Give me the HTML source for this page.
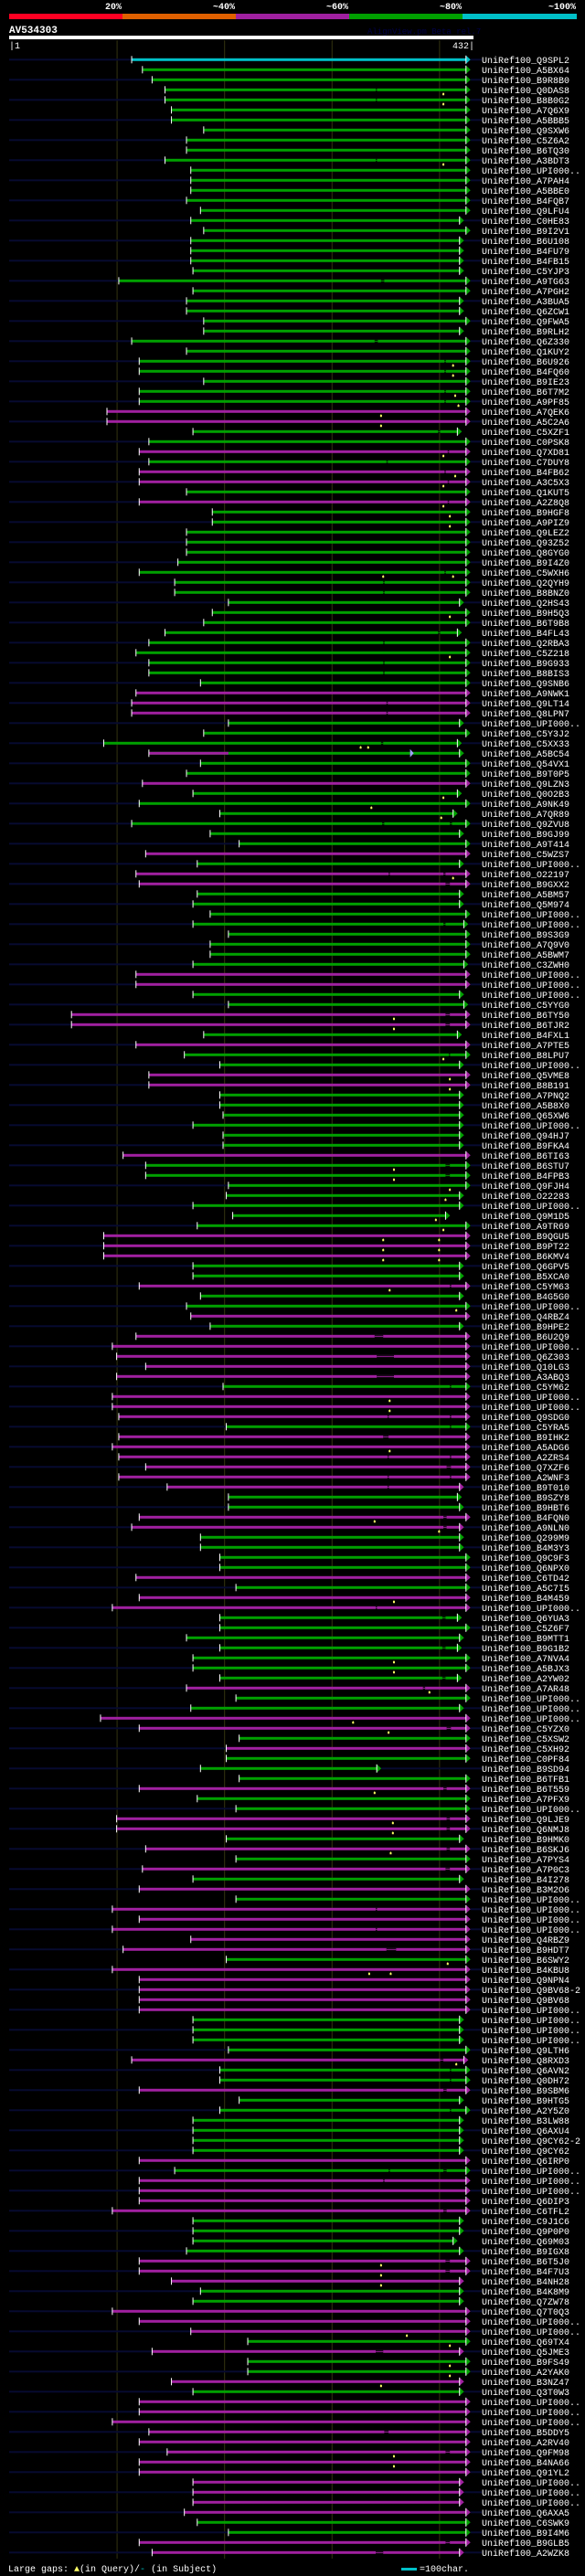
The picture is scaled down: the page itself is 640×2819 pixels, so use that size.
<!DOCTYPE html>
<html>
<head>
<meta charset="utf-8">
<style>
html,body{margin:0;padding:0;background:#000;}
body{width:640px;height:2819px;overflow:hidden;}
svg{display:block;}
text{font-family:"Liberation Mono","DejaVu Sans Mono",monospace;}
</style>
</head>
<body>
<svg id="chart" width="640" height="2819" viewBox="0 0 640 2819" xmlns="http://www.w3.org/2000/svg">
  <g>
    <rect x="10" y="15" width="124" height="6" fill="#ff0022"/>
    <rect x="134" y="15" width="124" height="6" fill="#e06000"/>
    <rect x="258" y="15" width="124" height="6" fill="#a020a0"/>
    <rect x="382" y="15" width="124" height="6" fill="#00a000"/>
    <rect x="506" y="15" width="125" height="6" fill="#00c0c8"/>
    <g font-size="10" font-weight="bold" fill="#fff" text-anchor="end">
      <text x="133" y="10">20%</text>
      <text x="257" y="10">~40%</text>
      <text x="381" y="10">~60%</text>
      <text x="505" y="10">~80%</text>
      <text x="630" y="10">~100%</text>
    </g>
  </g>
  <text x="10" y="36" font-size="11" font-weight="bold" fill="#fff">AV534303</text>
  <text x="402" y="37" font-size="9" fill="#000048">AlignView.pm Beta rel.7</text>
  <rect x="10" y="39" width="508" height="4" fill="#fff"/>
  <text x="10" y="53" font-size="10" fill="#fff">|1</text>
  <text x="519" y="53" font-size="10" fill="#fff" text-anchor="end">432|</text>
  <g id="grid"></g>
  <g id="rows"></g>
  <g>
    <text x="9" y="2814" font-size="10" fill="#fff">Large gaps:<tspan fill="#ffff66"> ▲</tspan>(in Query)/<tspan fill="#00c8c8">-</tspan> (in Subject)</text>
    <rect x="439" y="2810" width="17" height="3" fill="#00c0c8"/>
    <text x="459" y="2814" font-size="10" fill="#fff">=100char.</text>
  </g>
</svg>
<script>
const queryLength = 432;
const gridTicks = [100, 200, 300, 400];
const names = ["Q9SPL2","A5BX64","B9R8B0","Q0DAS8","B8B0G2","A7Q6X9","A5BBB5","Q9SXW6","C5Z6A2","B6TQ30",
"A3BDT3","UPI000..","A7PAH4","A5BBE0","B4FQB7","Q9LFU4","C0HE83","B9I2V1","B6U108","B4FU79",
"B4FB15","C5YJP3","A9TG63","A7PGH2","A3BUA5","Q6ZCW1","Q9FWA5","B9RLH2","Q6Z330","Q1KUY2",
"B6U926","B4FQ60","B9IE23","B6T7M2","A9PF85","A7QEK6","A5C2A6","C5XZF1","C0PSK8","Q7XD81",
"C7DUY8","B4FB62","A3C5X3","Q1KUT5","A2Z8Q8","B9HGF8","A9PIZ9","Q9LEZ2","Q93Z52","Q8GYG0",
"B9I4Z0","C5WXH6","Q2QYH9","B8BNZ0","Q2HS43","B9H5Q3","B6T9B8","B4FL43","Q2RBA3","C5Z218",
"B9G933","B8BIS3","Q9SNB6","A9NWK1","Q9LT14","Q8LPN7","UPI000..","C5Y3J2","C5XX33","A5BC54",
"Q54VX1","B9T0P5","Q9LZN3","Q0O2B3","A9NK49","A7QR89","Q9ZVU8","B9GJ99","A9T414","C5WZS7",
"UPI000..","O22197","B9GXX2","A5BM57","Q5M974","UPI000..","UPI000..","B9S3G9","A7Q9V0","A5BWM7",
"C3ZWH0","UPI000..","UPI000..","UPI000..","C5YYG0","B6TY50","B6TJR2","B4FXL1","A7PTE5","B8LPU7",
"UPI000..","Q5VME8","B8B191","A7PNQ2","A5B8X0","Q65XW6","UPI000..","Q94HJ7","B9FKA4","B6TI63",
"B6STU7","B4FPB3","Q9FJH4","O22283","UPI000..","Q9M1D5","A9TR69","B9QGU5","B9PT22","B6KMV4",
"Q6GPV5","B5XCA0","C5YM63","B4G5G0","UPI000..","Q4RBZ4","B9HPE2","B6U2Q9","UPI000..","Q6Z303",
"Q10LG3","A3ABQ3","C5YM62","UPI000..","UPI000..","Q9SDG0","C5YRA5","B9IHK2","A5ADG6","A2ZRS4",
"Q7XZF6","A2WNF3","B9T010","B9SZY8","B9HBT6","B4FQN0","A9NLN0","Q299M9","B4M3Y3","Q9C9F3",
"Q6NPX0","C6TD42","A5C7I5","B4M459","UPI000..","Q6YUA3","C5Z6F7","B9MTT1","B9G1B2","A7NVA4",
"A5BJX3","A2YW02","A7AR48","UPI000..","UPI000..","UPI000..","C5YZX0","C5XSW2","C5XH92","C0PF84",
"B9SD94","B6TFB1","B6T559","A7PFX9","UPI000..","Q9LJE9","Q6NMJ8","B9HMK0","B6SKJ6","A7PYS4",
"A7P0C3","B4I278","B3M2O6","UPI000..","UPI000..","UPI000..","UPI000..","Q4RBZ9","B9HDT7","B6SWY2",
"B4KBU8","Q9NPN4","Q9BV68-2","Q9BV68","UPI000..","UPI000..","UPI000..","UPI000..","Q9LTH6","Q8RXD3",
"Q6AVN2","Q0DH72","B9SBM6","B9HTG5","A2Y5Z0","B3LW88","Q6AXU4","Q9CY62-2","Q9CY62","Q6IRP0",
"UPI000..","UPI000..","UPI000..","Q6DIP3","C6TFL2","C9J1C6","Q9P0P0","Q69M03","B9IGX8","B6T5J0",
"B4F7U3","B4NH28","B4K8M9","Q7ZW78","Q7T0Q3","UPI000..","UPI000..","Q69TX4","Q5JME3","B9FS49",
"A2YAK0","B3NZ47","Q3T0W3","UPI000..","UPI000..","UPI000..","B5DDY5","A2RV40","Q9FM98","B4NA66",
"Q91YL2","UPI000..","UPI000..","UPI000..","Q6AXA5","C6SWK9","B9I4M6","B9GLB5","A2WZK8"];
const kinds = "cggggggggg"+"gggggggggg"+"gggggggggg"+"gggggppggp"+"gppgpggggg"+"gggggggggg"+"gggpppgggg"+"ggpggggggp"+"gppggggggg"+"gppggppgpg"+"gppggggggp"+"gggggggppp"+"ggpggpgppp"+"ppgpppgppp"+"pppggppggg"+"gpgppggggg"+"ggpggppgpg"+"ggpggppgpg"+"pgpgpppppg"+"pppppggggp"+"ggpggggggp"+"gppppggggp"+"ppggpppgpg"+"gpgppppppp"+"pppppggpp";
const starts = [114,124,133,145,145,151,151,181,165,165,
145,169,169,169,165,178,169,181,169,169,
169,171,102,171,165,165,181,181,114,165,
121,121,181,121,121,91,91,171,130,121,
130,121,121,165,121,189,189,165,165,165,
157,121,154,154,204,189,181,145,130,118,
130,130,178,118,114,114,204,181,88,130,
178,165,124,171,121,196,114,187,214,127,
175,118,121,175,171,187,171,204,187,187,
171,118,118,171,204,58,58,181,118,163,
196,130,130,196,196,199,171,199,199,106,
127,127,204,202,171,208,175,88,88,88,
171,171,121,178,165,169,187,118,96,100,
127,100,199,96,96,102,202,102,96,102,
127,102,147,204,204,121,114,178,178,196,
196,118,211,121,96,196,196,165,196,171,
171,196,165,211,169,85,121,214,202,202,
178,214,121,175,211,100,100,202,127,211,
124,171,121,211,96,121,96,169,106,202,
96,121,121,121,121,171,171,171,204,114,
196,196,121,214,196,171,171,171,171,121,
154,121,121,121,96,171,171,171,165,121,
121,151,178,171,96,121,169,222,133,222,
222,151,171,121,121,96,130,121,147,121,
121,171,171,171,163,175,204,121,133];
const ends = [425,425,425,425,425,425,425,425,425,425,
425,425,425,425,425,425,419,425,419,419,
419,419,425,425,419,419,425,419,425,425,
425,425,425,425,425,425,425,417,425,425,
425,425,425,425,425,425,425,425,425,425,
425,425,425,425,419,425,425,417,425,425,
425,425,425,425,425,425,419,425,417,419,
425,425,425,417,425,413,425,419,425,425,
419,425,425,419,419,425,423,425,425,425,
423,425,425,419,423,425,425,417,425,425,
419,425,425,419,419,419,419,419,419,425,
425,425,425,419,419,406,425,425,425,425,
419,419,425,419,425,425,419,425,425,425,
425,425,425,425,425,425,425,425,425,425,
425,425,419,417,419,425,419,419,419,425,
425,425,425,425,425,417,425,419,417,425,
425,417,425,425,419,425,425,425,425,425,
342,425,425,425,425,425,425,419,425,425,
425,419,425,425,425,425,425,425,425,425,
425,425,425,425,425,419,419,419,425,423,
425,425,425,419,425,419,419,419,419,425,
425,425,425,425,425,419,419,413,419,425,
425,419,419,419,425,425,425,425,419,425,
425,419,419,425,425,425,425,425,425,425,
425,419,419,419,425,425,425,425,419];
// [row, gapStart, gapEnd] in query coordinates
const gapList = [[3,341,342],[4,341,342],[10,341,342],[22,346,349],[28,340,343],[30,405,406],[31,405,406],[33,405,406],[34,405,406],
[37,399,401],[39,408,409],[40,351,352],[41,405,406],[42,408,409],[44,408,409],[51,405,406],[52,348,349],[53,348,349],
[57,399,401],[58,348,349],[60,348,349],[61,348,349],[64,351,352],[65,351,352],[68,346,348],[76,347,349],[76,410,412],
[81,353,354],[81,404,406],[82,406,410],[86,404,406],[95,406,410],[96,406,410],[99,409,410],[110,406,410],[111,406,410],
[122,410,411],[127,340,348],[129,342,358],[131,342,358],[132,410,411],[135,352,353],[135,410,411],[136,410,411],[137,348,353],
[139,352,353],[139,410,411],[140,407,411],[141,352,353],[141,410,411],[142,352,353],[145,404,407],[146,404,407],[154,341,342],
[155,403,406],[158,403,406],[161,403,406],[162,385,387],[166,407,411],[172,404,407],[175,407,410],[176,407,410],[178,407,410],
[180,406,410],[184,341,342],[186,341,342],[188,351,360],[199,401,404],[200,410,411],[201,410,411],[202,404,407],[204,410,411],
[210,353,354],[210,404,407],[211,348,349],[214,404,407],[219,406,410],[220,406,410],[228,341,348],[236,349,353],[238,406,410],
[247,406,410],[248,341,348]];
// [row, position] large gaps in query
const markList = [[3,404],[4,404],[10,404],[30,413],[31,413],[33,415],[34,418],[35,346],[36,346],[39,404],[41,415],[42,404],[44,404],
[45,410],[46,410],[51,348],[51,413],[55,410],[59,410],[68,327],[68,334],[73,404],[74,337],[75,402],[81,413],[95,358],[96,358],
[99,404],[101,410],[102,410],[110,358],[111,358],[112,410],[113,406],[115,397],[116,404],[117,348],[117,400],[118,348],[118,400],
[119,348],[119,400],[122,354],[124,416],[133,354],[134,354],[138,354],[145,340],[146,400],[153,358],[159,358],[160,358],[162,391],
[165,320],[166,353],[172,340],[175,357],[176,357],[178,355],[189,408],[190,335],[190,355],[199,416],[219,346],[220,346],[221,346],
[226,370],[227,410],[229,410],[230,410],[231,346],[238,358],[239,358]];
// [row, subStart, subEnd] segments drawn in another identity colour
const prefixList = [[69,130,204]];
const extraArrowList = [[69,373]];

const NS = "http://www.w3.org/2000/svg";
const X0 = 10, X1 = 518;
function xs(q){ return X0 + q * (X1 - X0) / queryLength; }
const ROW0 = 65.3, PITCH = 11;
function ys(i){ return ROW0 + i * PITCH; }
const colorOf = {c:"#00c0c8", g:"#00a000", p:"#a020a0"};
const NAVY = "#070a30";
function mk(tag, attrs, parent){
  const e = document.createElementNS(NS, tag);
  for (const k in attrs) e.setAttribute(k, attrs[k]);
  parent.appendChild(e);
  return e;
}
const grid = document.getElementById("grid");
gridTicks.forEach(function(t){
  const l = mk("line", {x1: xs(t)+0.5, x2: xs(t)+0.5, y1: 44, y2: 2800, stroke: "#343410", "stroke-width": 1}, grid);
  
  
});
const rowsG = document.getElementById("rows");
names.forEach(function(nm, i){
  const y = ys(i);
  const col = colorOf[kinds[i]] || colorOf.g;
  const g = mk("g", {}, rowsG);
  
  
  const xa = xs(starts[i]), xb = xs(ends[i]);
  if (i % 2 === 0) {
    const ln = mk("rect", {x: X0, y: y-1, width: xa - X0, height: 2, fill: NAVY}, g);
    
    
    const rn = mk("rect", {x: xb+5, y: y-1, width: Math.max(0, 527 - xb - 5), height: 2, fill: NAVY}, g);
    
    
  }
  const bar = mk("rect", {x: xa, y: y-1.5, width: xb - xa, height: 3, fill: col}, g);
  
  
  prefixList.forEach(function(p){
    if (p[0] !== i) return;
    const pr = mk("rect", {x: xs(p[1]), y: y-1.5, width: xs(p[2]) - xs(p[1]), height: 3, fill: colorOf.p}, g);
    
    
  });
  gapList.forEach(function(gp){
    if (gp[0] !== i) return;
    const a = xs(gp[1]), b = Math.max(xs(gp[2]), a + 1.5);
    const gr = mk("rect", {x: a, y: y-1.5, width: b - a, height: 3, fill: "#000"}, g);
    
    
    const gl = mk("rect", {x: a, y: y-0.5, width: b - a, height: 1, fill: col}, g);
    
    
  });
  markList.forEach(function(m){
    if (m[0] !== i) return;
    const mx = xs(m[1]);
    const mm = mk("path", {d: "M"+(mx-1)+" "+(y+6)+"L"+(mx-1)+" "+(y+4)+"L"+mx+" "+(y+3)+"L"+(mx+1)+" "+(y+4)+"L"+(mx+1)+" "+(y+6)+"Z", fill: "#ffff66"}, g);
    
    
  });
  const tk = mk("rect", {x: xa-0.5, y: y-4, width: 1, height: 8, fill: "#fff"}, g);
  
  
  const ar = mk("path", {d: "M"+xb+" "+(y-4.5)+"L"+(xb+5)+" "+y+"L"+xb+" "+(y+4.5)+"Z", fill: col}, g);
  
  
  const al = mk("rect", {x: xb-0.5, y: y-4.5, width: 1, height: 9, fill: "#fff"}, g);
  
  
  extraArrowList.forEach(function(ea){
    if (ea[0] !== i) return;
    const ex = xs(ea[1]);
    const e2 = mk("path", {d: "M"+ex+" "+(y-4.5)+"L"+(ex+4)+" "+y+"L"+ex+" "+(y+4.5)+"Z", fill: "#a0a0ff"}, g);
    
    
  });
  const tx = mk("text", {x: 527, y: y+3.5, "font-size": 10, fill: "#fff"}, g);
  
  
  tx.textContent = "UniRef100_" + nm;
});
</script>
</body>
</html>
